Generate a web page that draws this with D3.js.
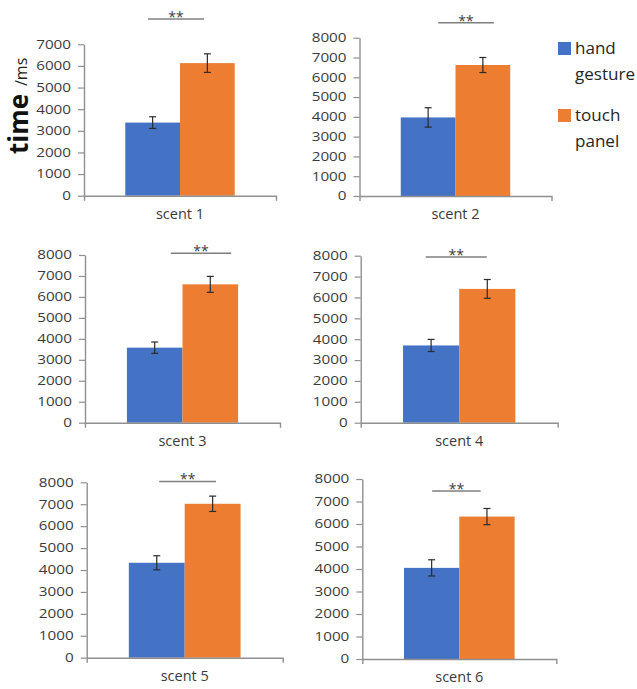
<!DOCTYPE html>
<html>
<head>
<meta charset="utf-8">
<script src="https://cdn.jsdelivr.net/npm/d3@7"></script>
<style>
  html, body { margin: 0; padding: 0; background: #fff; }
  svg { display: block; }
</style>
</head>
<body>
<script>
// ---------------- data ----------------
const categories = ["scent 1", "scent 2", "scent 3", "scent 4", "scent 5", "scent 6"];
const seriesNames = ["hand gesture", "touch panel"];
const legendLines = [["hand", "gesture"], ["touch", "panel"]];
const handMean  = [3380, 3970, 3580, 3700, 4330, 4050];
const handErr   = [270, 490, 270, 290, 320, 360];
const touchMean = [6130, 6620, 6600, 6410, 7020, 6330];
const touchErr  = [430, 380, 380, 450, 350, 360];
const yMax      = [7000, 8000, 8000, 8000, 8000, 8000];
const tickStep  = 1000;
const sigLabel  = "**";
const sigValue  = [8170, 8750, 8080, 7940, 8040, 7470];   // height of bracket (ms)
const sigFrom   = [0.333, 0.41, 0.44, 0.33, 0.37, 0.36];   // fraction of axis width
const sigTo     = [0.625, 0.70, 0.75, 0.64, 0.66, 0.61];
const yTitleMain = "time";
const yTitleUnit = "/ms";

// ---------------- layout ----------------
const W = 637, H = 689;
const colors = ["#4472C4", "#ED7D31"];
const axisColor = "#8f8f8f";
const textColor = "#3a3a3a";
const panels = [
  { x: 84,    w: 192, yB: 195.7, yT: 44.3 },
  { x: 359.5, w: 192, yB: 196,   yT: 37.7 },
  { x: 85,    w: 195, yB: 422.7, yT: 255  },
  { x: 360.7, w: 197, yB: 422.7, yT: 255.7 },
  { x: 86.7,  w: 196, yB: 657.7, yT: 482.3 },
  { x: 362.3, w: 194, yB: 659,   yT: 479  }
];

const svg = d3.select("body").append("svg")
  .attr("width", W).attr("height", H)
  .style("font-family", "'Open Sans', sans-serif");

panels.forEach((p, i) => {
  const g = svg.append("g");
  const y = d3.scaleLinear().domain([0, yMax[i]]).range([p.yB, p.yT]);
  const x = d3.scaleBand().domain([categories[i]]).range([p.x, p.x + p.w])
    .paddingInner(0).paddingOuter(0.377);
  const xs = d3.scaleBand().domain(seriesNames)
    .range([x(categories[i]), x(categories[i]) + x.bandwidth()]);

  const vals = [
    { s: seriesNames[0], v: handMean[i], e: handErr[i], c: colors[0] },
    { s: seriesNames[1], v: touchMean[i], e: touchErr[i], c: colors[1] }
  ];

  // bars
  g.selectAll("rect.bar").data(vals).enter().append("rect")
    .attr("class", "bar")
    .attr("x", d => xs(d.s))
    .attr("width", xs.bandwidth())
    .attr("y", d => y(d.v))
    .attr("height", d => y(0) - y(d.v))
    .attr("fill", d => d.c);

  // error bars
  const eb = g.selectAll("g.err").data(vals).enter().append("g").attr("class", "err")
    .attr("stroke", "#2b2b2b").attr("stroke-width", 1.2);
  eb.append("line")
    .attr("x1", d => xs(d.s) + xs.bandwidth() / 2).attr("x2", d => xs(d.s) + xs.bandwidth() / 2)
    .attr("y1", d => y(d.v - d.e)).attr("y2", d => y(d.v + d.e));
  [1, -1].forEach(sign => {
    eb.append("line")
      .attr("x1", d => xs(d.s) + xs.bandwidth() / 2 - 3.5)
      .attr("x2", d => xs(d.s) + xs.bandwidth() / 2 + 3.5)
      .attr("y1", d => y(d.v + sign * d.e)).attr("y2", d => y(d.v + sign * d.e));
  });

  // y axis
  const ticks = d3.range(0, yMax[i] + 1, tickStep);
  const ya = g.append("g")
    .attr("transform", `translate(${p.x},0)`)
    .call(d3.axisLeft(y).tickValues(ticks).tickSize(6).tickSizeOuter(0).tickPadding(7)
      .tickFormat(d3.format("d")));
  ya.select(".domain").attr("stroke", axisColor).attr("stroke-width", 1.4);
  ya.selectAll(".tick line").attr("stroke", axisColor).attr("stroke-width", 1.2);
  ya.selectAll(".tick text")
    .attr("x", 0)
    .attr("transform", "translate(-13,0) scale(1.27,1)")
    .attr("fill", textColor)
    .style("font-size", "12px")
    .style("font-family", "'Open Sans', sans-serif");

  // x axis
  const xa = g.append("g")
    .attr("transform", `translate(0,${p.yB})`)
    .call(d3.axisBottom(x).tickSizeInner(0).tickSizeOuter(5).tickPadding(13));
  xa.select(".domain").attr("stroke", axisColor).attr("stroke-width", 1.4);
  xa.selectAll(".tick text")
    .attr("fill", textColor)
    .style("font-size", "14.5px")
    .style("font-family", "'Open Sans', sans-serif");

  // significance bracket
  const sy = y(sigValue[i]);
  const sx0 = p.x + sigFrom[i] * p.w, sx1 = p.x + sigTo[i] * p.w;
  g.append("line")
    .attr("x1", sx0).attr("x2", sx1).attr("y1", sy).attr("y2", sy)
    .attr("stroke", "#7f7f7f").attr("stroke-width", 1.5);
  g.append("text")
    .attr("x", (sx0 + sx1) / 2).attr("y", sy + 3)
    .attr("text-anchor", "middle")
    .attr("fill", "#404040")
    .style("font-size", "14px")
    .text(sigLabel);
});

// y title
svg.append("text")
  .attr("transform", "translate(28,154) rotate(-90)")
  .attr("text-anchor", "start")
  .style("font-size", "26px").style("font-weight", "bold")
  .attr("fill", "#111")
  .text(yTitleMain);
svg.append("text")
  .attr("transform", "translate(27,86) rotate(-90)")
  .attr("text-anchor", "start")
  .style("font-size", "16px")
  .attr("fill", "#222")
  .text(yTitleUnit);

// legend
const legY = [42, 109];
seriesNames.forEach((s, k) => {
  svg.append("rect")
    .attr("x", 558).attr("y", legY[k]).attr("width", 13).attr("height", 13)
    .attr("fill", colors[k]);
  legendLines[k].forEach((t, j) => {
    svg.append("text")
      .attr("transform", `translate(575,${legY[k] + 12 + j * 26}) scale(1.1,1)`)
      .attr("fill", "#262626")
      .style("font-size", "15.5px")
      .text(t);
  });
});
</script>
</body>
</html>
